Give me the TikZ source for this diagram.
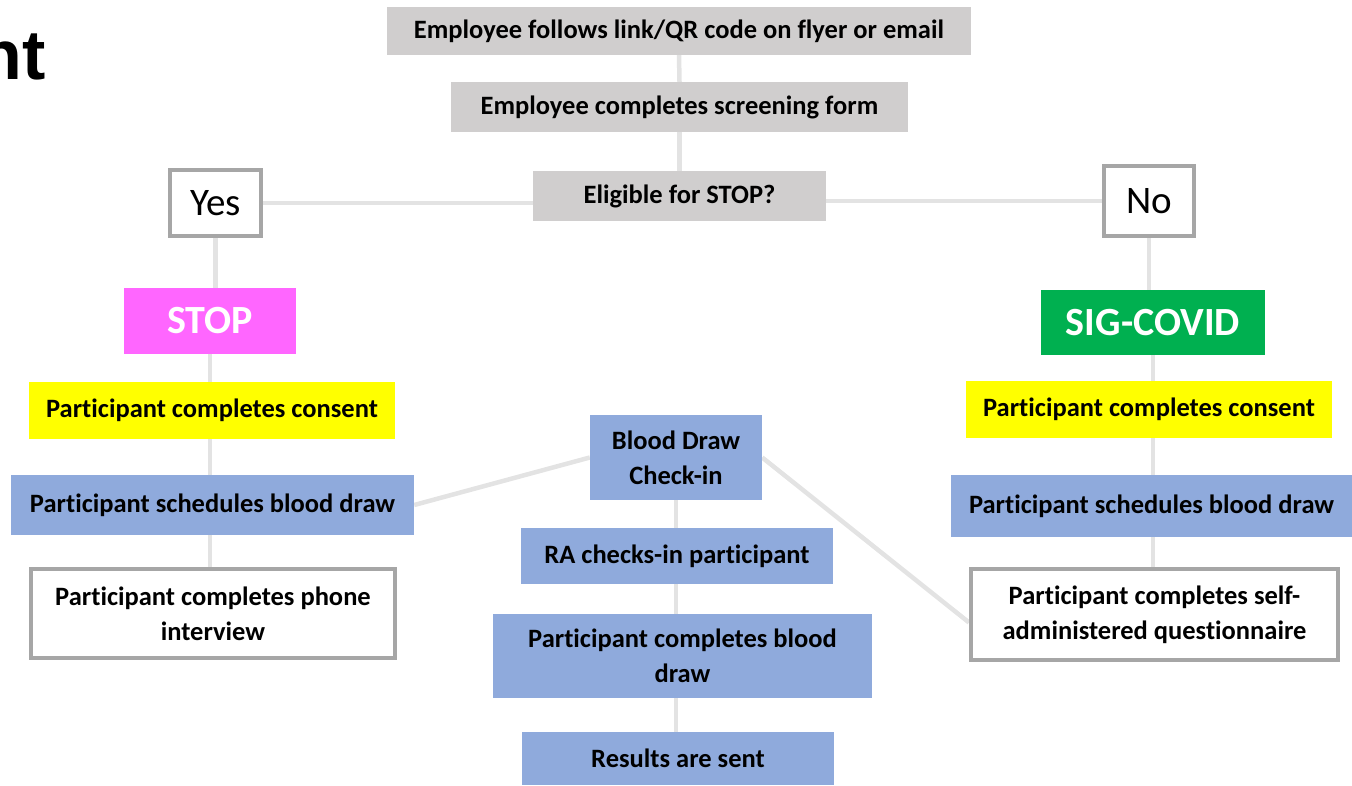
\documentclass[tikz,border=0pt]{standalone}
\usepackage{fontspec}
\setmainfont[Ligatures=NoCommon]{Carlito}
\newfontfamily\titlefont{Liberation Sans}
\usetikzlibrary{backgrounds,calc}

\definecolor{boxgrey}{HTML}{D0CECE}
\definecolor{boxblue}{HTML}{8FAADC}
\definecolor{boxyellow}{HTML}{FFFF00}
\definecolor{stoppink}{HTML}{FF66FF}
\definecolor{siggreen}{HTML}{00B050}
\definecolor{edgegrey}{HTML}{A6A6A6}
\definecolor{linkgrey}{HTML}{E3E3E3}

\tikzset{
  base/.style={inner sep=0pt, align=center, font=\fontsize{26.5}{35}\selectfont\bfseries},
  greybox/.style={base, fill=boxgrey},
  bluebox/.style={base, fill=boxblue},
  yellowbox/.style={base, fill=boxyellow},
  whitebox/.style={base, fill=white, draw=edgegrey, line width=4pt},
  answer/.style={inner sep=0pt, fill=white, draw=edgegrey, line width=4pt,
    font=\fontsize{39}{44}\selectfont},
  study/.style={inner sep=0pt, text=white, font=\fontsize{40}{46}\selectfont\bfseries},
  link/.style={draw=linkgrey, line width=4.5pt}
}

\begin{document}
\begin{tikzpicture}[x=1pt,y=-1pt]
\useasboundingbox (0,0) rectangle (1352,786);

% cut-off heading at the top left
\node[anchor=base east, inner sep=0pt, font=\titlefont\bfseries\fontsize{70}{80}\selectfont] (heading) at (46,80) {nt};

% screening steps
\node[greybox, minimum width=584, minimum height=48] (follow) at (679,31) {Employee follows link/QR code on flyer or email};
\node[greybox, minimum width=457, minimum height=50] (screen) at (679.5,107) {Employee completes screening form};
\node[greybox, minimum width=293, minimum height=50] (elig) at (679.5,196) {Eligible for STOP?};

% answers
\node[answer, minimum width=91, minimum height=66] (yes) at (215.5,203) {Yes};
\node[answer, minimum width=90, minimum height=70] (no) at (1149,201) {No};

% studies
\node[study, fill=stoppink, minimum width=172, minimum height=66] (stop) at (210,321) {STOP};
\node[study, fill=siggreen, minimum width=224, minimum height=65] (sig) at (1153,322.5) {SIG-COVID};

% STOP branch
\node[yellowbox, minimum width=366, minimum height=57] (lcons) at (212,410.5) {Participant completes consent};
\node[bluebox, minimum width=403, minimum height=60] (lsched) at (212.5,505) {Participant schedules blood draw};
\node[whitebox, minimum width=364, minimum height=89] (lphone) at (213,613.5) {Participant completes phone\\interview};

% SIG-COVID branch
\node[yellowbox, minimum width=366, minimum height=57] (rcons) at (1149,409.5) {Participant completes consent};
\node[bluebox, minimum width=401, minimum height=62] (rsched) at (1151.5,506) {Participant schedules blood draw};
\node[whitebox, minimum width=367, minimum height=91] (rquest) at (1154.5,614.5) {Participant completes self-\\administered questionnaire};

% blood draw visit
\node[bluebox, minimum width=172, minimum height=85] (check) at (676,457.5) {Blood Draw\\Check-in};
\node[bluebox, minimum width=312, minimum height=56] (ra) at (677,556) {RA checks-in participant};
\node[bluebox, minimum width=379, minimum height=84] (draw) at (682.5,656) {Participant completes blood\\draw};
\node[bluebox, minimum width=312, minimum height=53] (sent) at (678,758.5) {Results are sent};

\begin{scope}[on background layer]
  \draw[link] (follow.south) -- (screen.north);
  \draw[link] (screen.south) -- (elig.north);
  \draw[link] (yes.east) -- (elig.west |- yes.east);
  \draw[link] (elig.east |- no.west) -- (no.west);
  % STOP column
  \draw[link] (yes.south) -- (yes.south |- stop.north);
  \draw[link] (stop.south) -- (stop.south |- lcons.north);
  \draw[link] (stop.south |- lcons.south) -- (stop.south |- lsched.north);
  \draw[link] (stop.south |- lsched.south) -- (stop.south |- lphone.north);
  % SIG-COVID column
  \draw[link] (no.south) -- (no.south |- sig.north);
  \draw[link] (sig.south) -- (sig.south |- rcons.north);
  \draw[link] (sig.south |- rcons.south) -- (sig.south |- rsched.north);
  \draw[link] (sig.south |- rsched.south) -- (sig.south |- rquest.north);
  % visit column
  \draw[link] (check.south) -- (check.south |- ra.north);
  \draw[link] (check.south |- ra.south) -- (check.south |- draw.north);
  \draw[link] (check.south |- draw.south) -- (check.south |- sent.north);
  % cross links
  \draw[link] (lsched.east) -- (check.west);
  \draw[link] (check.east) -- ($(rquest.west)+(0,8)$);
\end{scope}
\end{tikzpicture}
\end{document}
